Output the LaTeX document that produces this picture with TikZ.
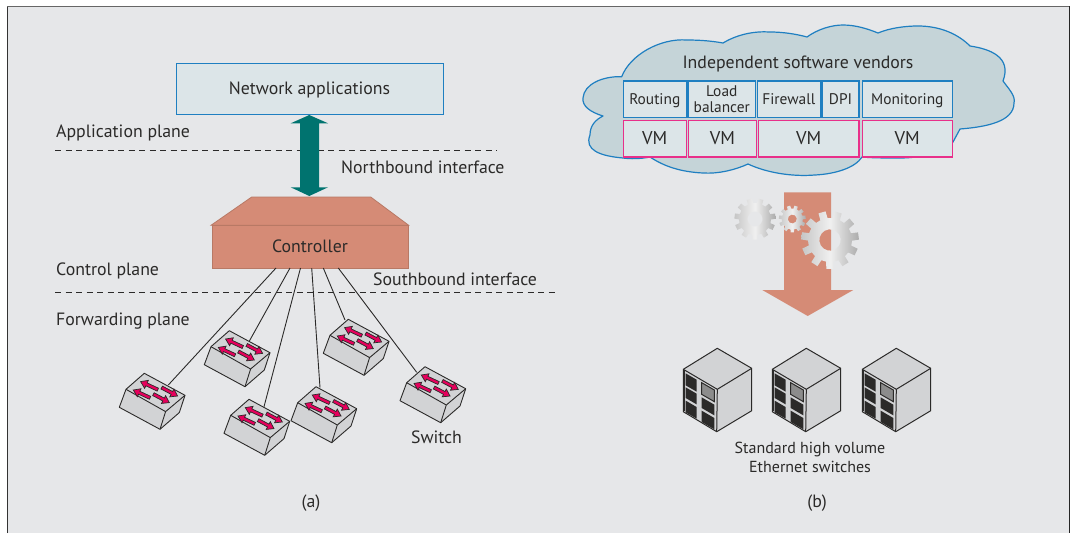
\documentclass[tikz,border=0pt]{standalone}
\usepackage{fontspec}
\setmainfont{PT Sans}
\definecolor{panelbg}{HTML}{E6E7E9}
\definecolor{boxfill}{HTML}{DCE5E8}
\definecolor{cloudfill}{HTML}{C5D4D8}
\definecolor{bluel}{HTML}{1F7FC1}
\definecolor{pinkl}{HTML}{E8308A}
\definecolor{salmon}{HTML}{D58B76}
\definecolor{salmonl}{HTML}{B87965}
\definecolor{tealc}{HTML}{00736F}
\definecolor{ink}{HTML}{2B2A29}
\definecolor{swgray}{HTML}{D2D3D5}
\definecolor{swred}{HTML}{E6005C}
\definecolor{gearlo}{HTML}{ABABAB}
\definecolor{gearmid}{HTML}{F0F0F0}
\definecolor{gearhi}{HTML}{C6C6C6}
\tikzset{
  x=1pt,y=-1pt,
  lbl/.style={font=\fontsize{17.8}{20}\selectfont,text=ink,inner sep=0pt},
  lblsm/.style={font=\fontsize{15.4}{15}\selectfont,text=ink,inner sep=0pt,align=center},
  swbox/.style={rectangle,draw=bluel,line width=1.2pt,fill=boxfill,inner sep=0pt,minimum height=36.5pt,lblsm},
  vmbox/.style={rectangle,draw=pinkl,line width=1.5pt,fill=boxfill,inner sep=0pt,minimum height=36.5pt,font=\fontsize{18.5}{20}\selectfont,text=ink},
  planeline/.style={draw=ink,line width=0.8pt,dash pattern=on 6.3pt off 4.2pt},
  linkl/.style={draw=ink,line width=0.9pt},
  swedge/.style={draw=ink,line width=0.9pt,line join=round,fill=swgray},
  swarr/.style={draw=ink,line width=0.7pt,fill=swred,line join=miter},
  srvedge/.style={draw=ink,line width=1pt,line join=round,fill=swgray},
  srvcell/.style={fill=ink,draw=none},
  gearshade/.style={even odd rule,left color=gearhi,right color=gearlo,middle color=gearmid},
}
\newcommand{\low}[1]{\raisebox{0pt}[11.2pt][0pt]{#1}}
\newcommand{\swtharrow}[4]{% x y angle length
  \draw[swarr,shift={(#1,#2)},rotate=#3] (0,0)--(6.5,-4.4)--(6.5,-1.6)--(#4,-1.6)--(#4,1.6)--(6.5,1.6)--(6.5,4.4)--cycle;}
\newcommand{\swth}[2]{%
 \begin{scope}[shift={(#1,#2)}]
  \path[swedge] (0,0)--(40.7,22)--(35,39.3)--(15.7,56)--(-25,34)--(-18.3,16)--cycle;
  \draw[swedge,fill=none] (-18.3,16)--(21.3,38.3)--(40.7,22) (21.3,38.3)--(15.7,56);
  \swtharrow{-3.7}{8.3}{-25}{19}
  \swtharrow{33.3}{22.7}{152}{18}
  \swtharrow{-11}{16.7}{-25}{18.5}
  \swtharrow{25}{29.3}{152}{18}
 \end{scope}}
\newcommand{\srvcellp}[4]{% zoom-units: x0 y0 width height
  \fill[srvcell] ({#1/3},{#2/3})--({(#1+#3)/3},{(#2+0.58*#3)/3})--({(#1+#3)/3},{(#2+0.58*#3+#4)/3})--({#1/3},{(#2+#4)/3})--cycle;}
\newcommand{\srv}[2]{%
 \begin{scope}[shift={(#1,#2)}]
  \path[srvedge] (0,0)--(34.4,20)--(34.4,62.4)--(-0.6,83.4)--(-34,63.4)--(-34,21)--cycle;
  \draw[srvedge,fill=none] (-34,21)--(0,41)--(34.4,20) (0,41)--(-0.6,83.4);
  \draw[draw=ink,line width=1.6pt] (-33.4,21.6)--(-33.4,63);
  \begin{scope}[shift={(-47.3,-8.3)}]
   \srvcellp{47}{100}{33}{36}
   \srvcellp{47}{142}{33}{32}
   \srvcellp{47}{182}{33}{35}
   \srvcellp{95}{172}{38}{32}
   \srvcellp{95}{212}{38}{34}
   \draw[ink,fill=black!45,line width=1pt] ({95/3},{128/3})--({133/3},{150/3})--({133/3},{185/3})--({95/3},{163/3})--cycle;
  \end{scope}
 \end{scope}}
\newcommand{\gear}[6]{% cx cy Router Rinner Rhole teeth
  \path[gearshade,shift={(#1,#2)},rotate=8]
   ({-0.3*360/#6}:#4)
   \foreach \i in {1,...,#6}{
     -- ({(\i-1)*360/#6-0.22*360/#6}:#3)
     -- ({(\i-1)*360/#6+0.22*360/#6}:#3)
     -- ({(\i-1)*360/#6+0.3*360/#6}:#4)
     -- ({\i*360/#6-0.3*360/#6}:#4)
   } -- cycle (0,0) circle (#5);}
\begin{document}
\begin{tikzpicture}
\useasboundingbox (0,0) rectangle (1073,533);
\fill[white] (0,0) rectangle (1073,533);
\fill[panelbg] (7,6) rectangle (1069,533);
\draw[draw=black!80,line width=1.3pt] (7.3,533)--(7.3,6.3);
\draw[draw=black!60,line width=1.1pt] (7.3,6.3)--(1069.6,6.3);
\draw[draw=black!85,line width=1.3pt] (1069.6,6.3)--(1069.6,533);

% (a)
\node[rectangle,draw=bluel,line width=0.8pt,fill=boxfill,minimum width=267pt,minimum height=51pt,lbl] (netapp) at (309.5,88.5) {\low{Network applications}};
\draw[planeline] (55,150)--(497,150);
\draw[planeline] (55,292.5)--(556,292.5);
\node[lbl,anchor=west] (appplane) at (56,133) {Application plane};
\node[lbl,anchor=west] (nbi) at (341,167.2) {Northbound interface};
\node[lbl,anchor=west] (ctlplane) at (56,271) {Control plane};
\node[lbl,anchor=west] (sbi) at (373,279.2) {Southbound interface};
\node[lbl,anchor=west] (fwdplane) at (56,321) {Forwarding plane};

\fill[tealc] (309.3,115)--(328,123.3)--(319,123.3)--(319,187.3)--(328,187.3)--(309.3,196)--(290.7,187.3)--(300,187.3)--(300,123.3)--(290.7,123.3)--cycle;

\path[draw=salmonl,fill=salmon,line width=0.8pt] (251.7,197)--(370.7,197)--(408.7,225.3)--(211,225.3)--cycle;
\node[rectangle,draw=salmonl,fill=salmon,line width=0.8pt,minimum width=196pt,minimum height=43pt,lbl] (ctrl) at (310,246.5) {Controller};

\coordinate (c1) at (276,268);
\coordinate (c2) at (290,268);
\coordinate (c3) at (300.5,268);
\coordinate (c4) at (311.7,268);
\coordinate (c5) at (323.3,268);
\coordinate (c6) at (338.3,268);
\coordinate (s1) at (168.3,385);
\coordinate (s2) at (249,341.7);
\coordinate (s3) at (264,406.7);
\coordinate (s4) at (345,320);
\coordinate (s5) at (320,387.7);
\coordinate (s6) at (416.7,372.3);
\draw[linkl] (c1)--(s1);
\draw[linkl] (c2)--(s2);
\draw[linkl] (c3)--(s3);
\draw[linkl] (c4)--(s5);
\draw[linkl] (c5)--(s4);
\draw[linkl] (c6)--(s6);

\swth{144.3}{373.3}
\swth{229.3}{330.7}
\swth{316}{386.7}
\swth{249}{399.3}
\swth{348.3}{319.3}
\swth{425}{366.7}
\node[lbl] (swlabel) at (436.5,437.5) {Switch};
\node[lbl] (capa) at (311,503) {(a)};

% (b)
\path[draw=bluel,fill=cloudfill,line width=1.2pt,line join=round]
 (621.7,76.7) .. controls (630,55) and (660,38) .. (687,40) .. controls (700,40) and (712,41) .. (723,43)
 .. controls (738,34) and (755,31) .. (770,32) .. controls (783,32) and (796,34) .. (807,37)
 .. controls (818,29) and (832,25) .. (843,25) .. controls (856,25) and (868,29) .. (878,33)
 .. controls (890,28) and (905,26) .. (918,26) .. controls (940,26) and (958,34) .. (970,46)
 .. controls (990,49) and (1012,57) .. (1003,81)
 .. controls (1008,88) and (1016,96) .. (1014,103) .. controls (1014,122) and (985,127) .. (960,129)
 -- (953,142) .. controls (940,155) and (915,158) .. (900,158) .. controls (885,158) and (872,158) .. (862,157)
 .. controls (855,168) and (835,174) .. (815,175) .. controls (790,177) and (765,172) .. (748,164)
 .. controls (735,170) and (718,174) .. (703,173) .. controls (682,172) and (665,167) .. (650,157)
 .. controls (640,159) and (630,159) .. (623,158) .. controls (600,156) and (584,150) .. (590,135)
 .. controls (590,126) and (595,120) .. (603,116) .. controls (590,112) and (582,106) .. (583,98)
 .. controls (584,84) and (603,76) .. (621.7,76.7) -- cycle;
\node[lbl] (isv) at (798,63.5) {Independent software vendors};
\node[swbox,minimum width=63pt] (routing) at (654.8,99.3) {\low{Routing}};
\node[swbox,minimum width=67.7pt] (loadb) at (721.8,99.3) {Load\\[1.5pt]balancer};
\node[swbox,minimum width=63pt] (firewall) at (788.8,99.3) {\low{Firewall}};
\node[swbox,minimum width=37pt] (dpi) at (840.5,99.3) {\low{DPI}};
\node[swbox,minimum width=90pt] (monitoring) at (907.3,99.3) {\low{Monitoring}};
\node[vmbox,minimum width=63pt] (vm1) at (654.8,138.6) {VM};
\node[vmbox,minimum width=68.4pt] (vm2) at (722.5,138.6) {VM};
\node[vmbox,minimum width=100.3pt] (vm3) at (808.8,138.6) {VM};
\node[vmbox,minimum width=90pt] (vm4) at (907.3,138.6) {VM};

\fill[salmon] (784,192.3)--(831,192.3)--(831,290)--(853.3,290)--(807.7,316)--(762.3,290)--(784,290)--cycle;
\gear{755}{219}{20.7}{16}{7.5}{11}
\gear{792.3}{219}{13.5}{10.5}{4.5}{11}
\gear{830}{240}{29}{22}{10.7}{11}

\srv{717.3}{348.3}
\srv{806.3}{348.3}
\srv{896.3}{348.3}
\node[lbl,align=center,font=\fontsize{16}{19}\selectfont] (stdsw) at (810,457.5) {Standard high volume\\Ethernet switches};
\node[lbl] (capb) at (817,503) {(b)};
\end{tikzpicture}
\end{document}
